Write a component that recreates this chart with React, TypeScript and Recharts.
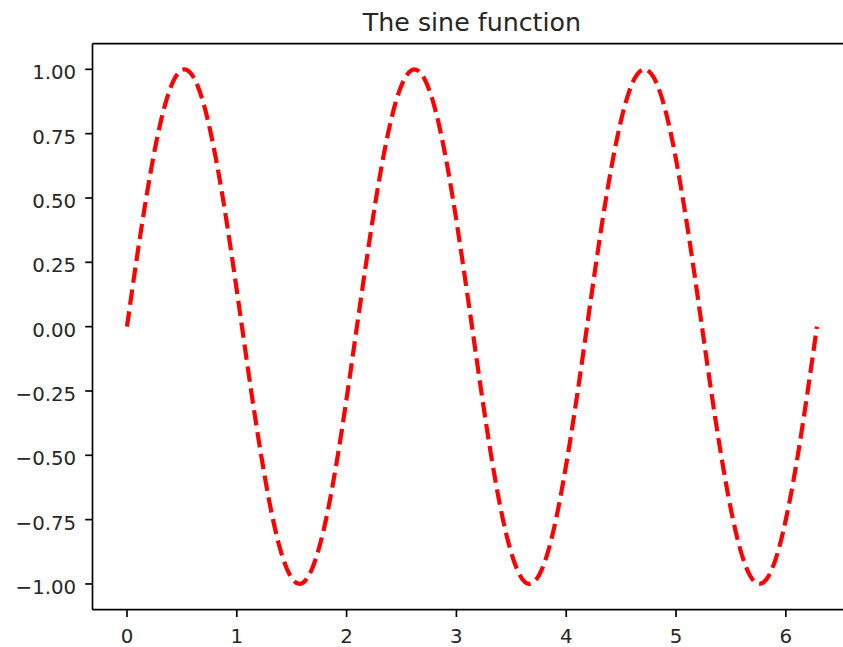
import React from 'react';
import { LineChart, Line, XAxis, YAxis, ReferenceLine } from 'recharts';

const xValues = [
  0, 0.087, 0.175, 0.262, 0.349, 0.436, 0.524, 0.611, 0.698, 0.785, 0.873, 0.96,
  1.047, 1.134, 1.222, 1.309, 1.396, 1.484, 1.571, 1.658, 1.745, 1.833, 1.92, 2.007,
  2.094, 2.182, 2.269, 2.356, 2.443, 2.531, 2.618, 2.705, 2.793, 2.88, 2.967, 3.054,
  3.142, 3.229, 3.316, 3.403, 3.491, 3.578, 3.665, 3.752, 3.84, 3.927, 4.014, 4.102,
  4.189, 4.276, 4.363, 4.451, 4.538, 4.625, 4.712, 4.8, 4.887, 4.974, 5.061, 5.149,
  5.236, 5.323, 5.411, 5.498, 5.585, 5.672, 5.76, 5.847, 5.934, 6.021, 6.109, 6.196,
  6.283,
];

const sineValues = [
  0, 0.259, 0.5, 0.707, 0.866, 0.966, 1, 0.966, 0.866, 0.707, 0.5, 0.259,
  0, -0.259, -0.5, -0.707, -0.866, -0.966, -1, -0.966, -0.866, -0.707, -0.5, -0.259,
  0, 0.259, 0.5, 0.707, 0.866, 0.966, 1, 0.966, 0.866, 0.707, 0.5, 0.259,
  0, -0.259, -0.5, -0.707, -0.866, -0.966, -1, -0.966, -0.866, -0.707, -0.5, -0.259,
  0, 0.259, 0.5, 0.707, 0.866, 0.966, 1, 0.966, 0.866, 0.707, 0.5, 0.259,
  0, -0.259, -0.5, -0.707, -0.866, -0.966, -1, -0.966, -0.866, -0.707, -0.5, -0.259,
  0,
];

const xTicks = [0, 1, 2, 3, 4, 5, 6];
const yTicks = [-1, -0.75, -0.5, -0.25, 0, 0.25, 0.5, 0.75, 1];
const title = 'The sine function';

const data = xValues.map((x, i) => ({ x, y: sineValues[i] }));

const FONT = '"DejaVu Sans", sans-serif';
const TICK_FONT = 19.8;

const fmtY = (v: number) => {
  const s = Math.abs(v).toFixed(2);
  return v < 0 ? '\u2212' + s : s;
};

const XTick = (props: any) => {
  const { x, y, payload } = props;
  return (
    <text x={x} y={y + 26.3} textAnchor="middle" fontFamily={FONT} fontSize={TICK_FONT} fill="#262626">
      {String(payload.value)}
    </text>
  );
};

const YTick = (props: any) => {
  const { x, y, payload } = props;
  return (
    <text x={x} y={y + 10} textAnchor="end" fontFamily={FONT} fontSize={TICK_FONT} fill="#262626">
      {fmtY(payload.value)}
    </text>
  );
};

export default function App() {
  const W = 870;
  const H = 647;
  const plotLeft = 92.5;
  const plotRight = 851.4;
  const plotTop = 43.6;
  const plotBottom = 609.7;
  const axisStroke = { stroke: '#000', strokeWidth: 1.67 };
  return (
    <div style={{ position: 'fixed', left: 0, top: 0, width: 843, height: 647, overflow: 'hidden', background: '#fff' }}>
      <LineChart
        width={W}
        height={H}
        data={data}
        margin={{ top: plotTop, right: W - plotRight, bottom: 0, left: 0 }}
      >
        <XAxis
          xAxisId="bottom"
          dataKey="x"
          type="number"
          domain={[-0.314, 6.597]}
          ticks={xTicks}
          allowDataOverflow
          height={H - plotBottom}
          tickSize={7.3}
          tickMargin={0}
          axisLine={axisStroke}
          tickLine={axisStroke}
          tick={<XTick />}
          interval={0}
        />
        <YAxis
          yAxisId="left"
          type="number"
          domain={[-1.1, 1.1]}
          ticks={yTicks}
          allowDataOverflow
          width={plotLeft}
          tickSize={7.3}
          tickMargin={9}
          axisLine={axisStroke}
          tickLine={axisStroke}
          tick={<YTick />}
          interval={0}
        />
        <ReferenceLine
          xAxisId="bottom"
          yAxisId="left"
          y={1.1}
          stroke="#000"
          strokeWidth={1.67}
          ifOverflow="visible"
        />
        <ReferenceLine
          xAxisId="bottom"
          yAxisId="left"
          x={6.597}
          stroke="#000"
          strokeWidth={1.67}
          ifOverflow="visible"
        />
        <Line
          xAxisId="bottom"
          yAxisId="left"
          type="monotone"
          dataKey="y"
          stroke="#ff0000"
          strokeWidth={4.2}
          strokeDasharray="15.4 6.7"
          dot={false}
          activeDot={false}
          isAnimationActive={false}
        />
      </LineChart>
      <svg
        width={843}
        height={647}
        style={{ position: 'absolute', left: 0, top: 0, pointerEvents: 'none' }}
      >
        <text x={(plotLeft + plotRight) / 2} y={31} textAnchor="middle" fontFamily={FONT} fontSize={25.3} fill="#262626">
          {title}
        </text>
      </svg>
    </div>
  );
}
